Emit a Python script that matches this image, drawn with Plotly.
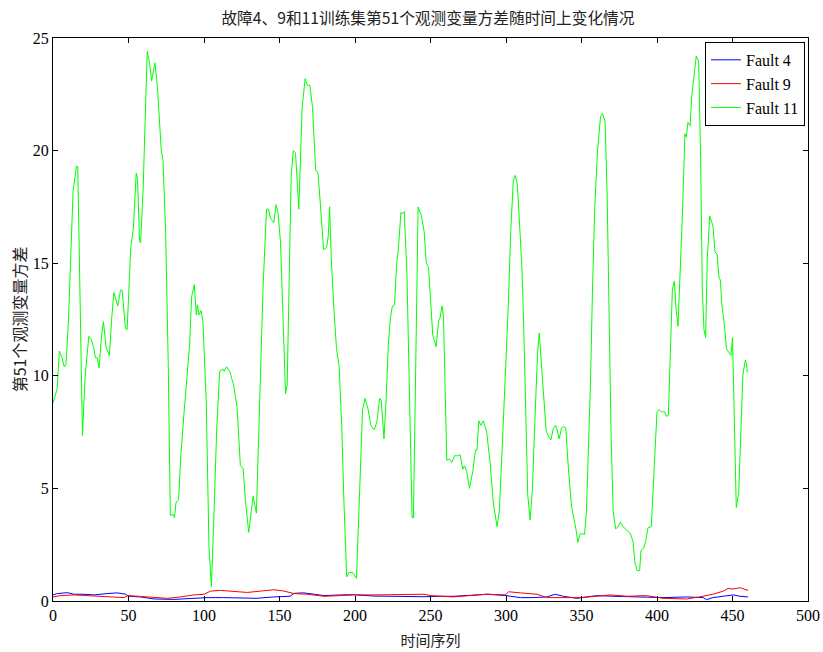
import plotly.graph_objects as go

# Fault 11 (green) vertices
g_x = [0, 2.7, 4.2, 6, 7.5, 8.6, 10.2, 11.5, 13.3, 15.5, 16.4, 19.5, 21.2, 23.7, 25.4, 27, 28.1, 29.2, 30.5,
       32.1, 33.4, 35.2, 37.4, 38.7, 40.3, 42.9, 44.7, 45.8, 48, 49.1, 51.5, 53.3, 55.1, 56, 57.3, 58, 59.7,
       61, 62.4, 63.9, 65.3, 67.5, 69.2, 71.7, 72.8, 74.6, 76.3, 77.7, 79.4, 80.5, 81.4, 83.2, 84.5, 86.7,
       88.9, 90.5, 91.8, 93.6, 94.9, 95.6, 96.7, 98, 99.3, 101.5, 103.3, 104.9, 106.2, 108.4, 110.4, 112.4,
       113.3, 115, 117, 119.6, 121.9, 124.1, 125.9, 127.4, 129.6, 132.5, 134.7, 136.9, 139.1, 141.4, 142.7,
       144, 146.2, 147.8, 149.1, 150.7, 152.4, 154, 155.1, 156.4, 157.7, 159.1, 160.6, 162.8, 163.9, 165,
       167, 168.4, 170.1, 171.9, 173.9, 175.5, 177.2, 179.2, 181.2, 182.3, 183.2, 184.3, 186.1, 187.7,
       189.5, 191.2, 192.7, 194.5, 196.1, 198.3, 201, 202.2, 203.8, 205, 206.7, 208.7, 210.5, 212.7, 214.5,
       216.3, 217.4, 219.2, 220.6, 222.1, 223.5, 224.8, 226.2, 227.5, 228.8, 230.4, 231.5, 232.6, 234.4,
       236.2, 237.8, 238.7, 240.2, 241.8, 244, 245.8, 247.2, 248.7, 250.2, 251.5, 253.7, 255.3, 256.4,
       257.7, 258.6, 259.7, 260.8, 262.6, 264.1, 265.9, 267.8, 269.6, 271.4, 272.5, 274, 275.8, 278, 279.8,
       280.8, 282, 283.3, 285, 287.2, 289.4, 291.6, 294.1, 295.6, 297.8, 300, 301.5, 303.1, 304.8, 306.2,
       307.5, 309.3, 310.6, 311.9, 313.3, 314.4, 316, 317.5, 319.1, 320.9, 322, 323.3, 324.8, 326.6, 328.2,
       329.7, 331.3, 332.8, 333.9, 335.2, 336.8, 337.9, 339.6, 341.2, 343.4, 344.9, 346.3, 347.6, 348.9,
       350.4, 352, 353.3, 354.6, 356, 357.3, 358.8, 360.6, 362.6, 363.9, 365.6, 367, 368.3, 369.6, 371,
       372.6, 374.2, 375.7, 377.5, 379.7, 382.3, 384.1, 385.4, 386.8, 388.5, 389.4, 391.2, 392.5, 394,
       396.2, 397.8, 400, 401.3, 402.9, 405.1, 406.2, 407.5, 408.8, 410.2, 411.5, 412.6, 413.9, 415, 416.8,
       418.5, 419.4, 420.5, 421.9, 423, 424.3, 426, 427.6, 428.9, 430, 431.1, 432.2, 433.3, 434.9, 436.4,
       437.1, 438.4, 439.8, 441.1, 442, 442.9, 444.4, 446, 447.9, 449, 450, 451.4, 452.5, 454.1, 455.7,
       456.9, 458.5, 459.2, 459.8]
g_y = [8.8, 9.4, 11.1, 10.8, 10.4, 10.5, 12.4, 15.2, 18.2, 19.3, 19.3, 7.35, 9.9, 11.75, 11.6, 11.25, 10.8,
       10.8, 10.35, 11.75, 12.4, 11.25, 10.9, 12.4, 13.7, 13.1, 13.8, 13.8, 12.1, 12.05, 15.7, 16.6, 19.0,
       18.7, 16.0, 15.9, 18.3, 21.3, 24.4, 23.9, 23.1, 23.9, 22.8, 20.0, 19.6, 16.4, 10.6, 3.8, 3.85, 3.7,
       4.35, 4.5, 6.3, 8.3, 9.9, 11.4, 13.5, 14.05, 12.7, 13.15, 12.7, 12.9, 12.4, 8.8, 2.4, 0.65, 3.05,
       7.6, 10.2, 10.3, 10.2, 10.4, 10.2, 9.6, 8.6, 6.0, 5.9, 4.5, 3.05, 4.65, 3.9, 8.8, 13.9, 17.4, 17.4,
       17.0, 16.8, 17.6, 17.2, 15.9, 12.9, 9.2, 9.6, 13.9, 18.8, 20.0, 19.9, 17.4, 19.6, 21.9, 23.2, 22.9,
       22.9, 21.9, 19.15, 19.0, 17.5, 15.6, 15.7, 16.2, 17.5, 15.2, 12.9, 11.25, 10.4, 7.8, 4.35, 1.07,
       1.27, 1.27, 1.0, 3.5, 6.5, 8.5, 9.0, 8.5, 7.8, 7.6, 7.95, 9.0, 8.9, 7.2, 8.95, 11.4, 12.6, 13.1,
       13.15, 14.9, 15.7, 17.25, 17.2, 17.3, 14.5, 8.95, 3.7, 3.7, 11.1, 17.5, 17.1, 16.4, 15.0, 14.8,
       13.2, 11.8, 11.3, 12.4, 12.6, 13.1, 12.6, 8.95, 6.25, 6.3, 6.15, 6.45, 6.45, 6.5, 5.85, 6.0, 5.75,
       5.0, 5.75, 6.7, 6.7, 8.0, 7.8, 8.0, 7.5, 6.2, 4.35, 3.3, 4.0, 7.3, 10.6, 13.1, 16.35, 18.65, 18.9,
       18.5, 16.35, 14.7, 11.75, 8.0, 4.7, 3.6, 5.0, 7.95, 11.0, 11.9, 10.6, 8.95, 7.55, 7.3, 7.15, 7.65,
       7.8, 7.6, 7.2, 7.7, 7.75, 7.7, 6.0, 4.2, 3.7, 3.2, 2.6, 2.95, 3.0, 2.95, 4.0, 6.5, 9.8, 13.9, 17.5,
       20.0, 21.5, 21.65, 21.3, 18.0, 12.25, 7.3, 4.0, 3.2, 3.3, 3.5, 3.3, 3.15, 3.0, 2.65, 1.7, 1.35,
       1.35, 2.25, 2.35, 2.65, 3.25, 3.3, 5.6, 8.4, 8.5, 8.4, 8.4, 8.2, 8.25, 10.7, 13.85, 14.2, 13.0, 12.2,
       13.85, 17.1, 20.75, 20.6, 21.25, 21.1, 22.4, 23.2, 24.2, 23.95, 19.6, 13.85, 12.05, 11.7, 15.2, 17.1,
       16.8, 16.65, 15.5, 15.4, 14.35, 14.25, 13.2, 12.4, 11.2, 11.0, 10.9, 11.7, 8.1, 4.15, 4.8, 7.75,
       10.05, 10.7, 10.55, 10.15]

# Fault 4 (blue)
b_x = [0, 2.9, 9.5, 13.9, 20.5, 27, 36, 42.6, 48, 50.3, 58, 67, 80, 91, 102, 113, 124, 135, 146, 157,
       159.6, 166, 173, 179.5, 190.5, 199, 212.6, 223.6, 234.7, 245.7, 256.7, 265, 276, 287.5, 300, 309.5,
       318, 327, 332.6, 338, 347, 360, 371, 384, 397.6, 404, 419.6, 430.6, 432.8, 437, 450.4, 455, 460.3]
b_y = [0.27, 0.33, 0.37, 0.3, 0.3, 0.27, 0.33, 0.36, 0.3, 0.21, 0.18, 0.09, 0.07, 0.12, 0.15, 0.15, 0.15,
       0.12, 0.18, 0.21, 0.34, 0.36, 0.3, 0.24, 0.27, 0.28, 0.22, 0.21, 0.18, 0.19, 0.21, 0.21, 0.25, 0.3,
       0.24, 0.15, 0.15, 0.18, 0.3, 0.21, 0.12, 0.24, 0.21, 0.19, 0.18, 0.15, 0.18, 0.15, 0.06, 0.15, 0.27,
       0.21, 0.18]

# Fault 9 (red)
r_x = [0, 5, 14, 25, 36, 47, 49.7, 58, 67, 75.7, 84.5, 93.4, 100, 104.4, 111, 120, 128.7, 137.5, 146.4,
       153, 159.6, 168.4, 179.5, 190.5, 199, 212.6, 223.6, 234.7, 245.7, 250, 265, 276, 287.5, 299.5, 301.8,
       309.5, 320.5, 327, 338, 349, 360, 369, 380, 393, 404, 419.6, 428, 437, 444, 447, 450.4, 455, 460.3]
r_y = [0.18, 0.24, 0.27, 0.24, 0.18, 0.15, 0.24, 0.21, 0.15, 0.12, 0.18, 0.27, 0.3, 0.44, 0.47, 0.41, 0.38,
       0.44, 0.5, 0.44, 0.33, 0.3, 0.21, 0.24, 0.27, 0.27, 0.27, 0.3, 0.3, 0.24, 0.18, 0.24, 0.3, 0.27, 0.41,
       0.36, 0.3, 0.15, 0.15, 0.15, 0.21, 0.27, 0.21, 0.24, 0.12, 0.09, 0.18, 0.3, 0.44, 0.56, 0.53, 0.59,
       0.47]

x_ticks = [0, 50, 100, 150, 200, 250, 300, 350, 400, 450, 500]
y_ticks = [0, 5, 10, 15, 20, 25]

title_text = "故障4、9和11训练集第51个观测变量方差随时间上变化情况"
x_title = "时间序列"
y_title = "第51个观测变量方差"

serif = "Liberation Serif, Times New Roman, serif"
cjk = "Noto Sans CJK SC"

fig = go.Figure()
fig.add_trace(go.Scatter(x=b_x, y=b_y, mode="lines", name="Fault 4",
                         line=dict(color="#0000ff", width=1)))
fig.add_trace(go.Scatter(x=r_x, y=r_y, mode="lines", name="Fault 9",
                         line=dict(color="#ff0000", width=1)))
fig.add_trace(go.Scatter(x=g_x, y=g_y, mode="lines", name="Fault 11",
                         line=dict(color="#00ff00", width=1)))

axis_common = dict(showline=True, linecolor="black", linewidth=1, mirror="allticks",
                   ticks="inside", ticklen=5, tickcolor="black", showgrid=False, zeroline=False,
                   tickfont=dict(family=serif, size=16, color="black"))

fig.update_layout(
    width=823, height=652,
    paper_bgcolor="white", plot_bgcolor="white",
    margin=dict(l=53, r=15, t=38, b=51, autoexpand=False),
    title=dict(text=title_text, x=0.52, xanchor="center", y=0.971, yanchor="middle",
               font=dict(family=cjk, size=15.7, color="#222222")),
    xaxis=dict(range=[0, 500], tickvals=x_ticks, ticktext=[str(v) for v in x_ticks],
               title=dict(text=x_title, font=dict(family=cjk, size=15, color="#222222"), standoff=12),
               **axis_common),
    yaxis=dict(range=[0, 25], tickvals=y_ticks, ticktext=[str(v) for v in y_ticks],
               title=dict(text=y_title, font=dict(family=cjk, size=16, color="#222222"), standoff=2),
               **axis_common),
    legend=dict(x=0.996, y=0.993, xanchor="right", yanchor="top",
                bgcolor="white", bordercolor="black", borderwidth=1,
                font=dict(family=serif, size=16, color="black"),
                tracegroupgap=0, itemwidth=30),
    showlegend=True,
)

fig.write_html("out.html")
